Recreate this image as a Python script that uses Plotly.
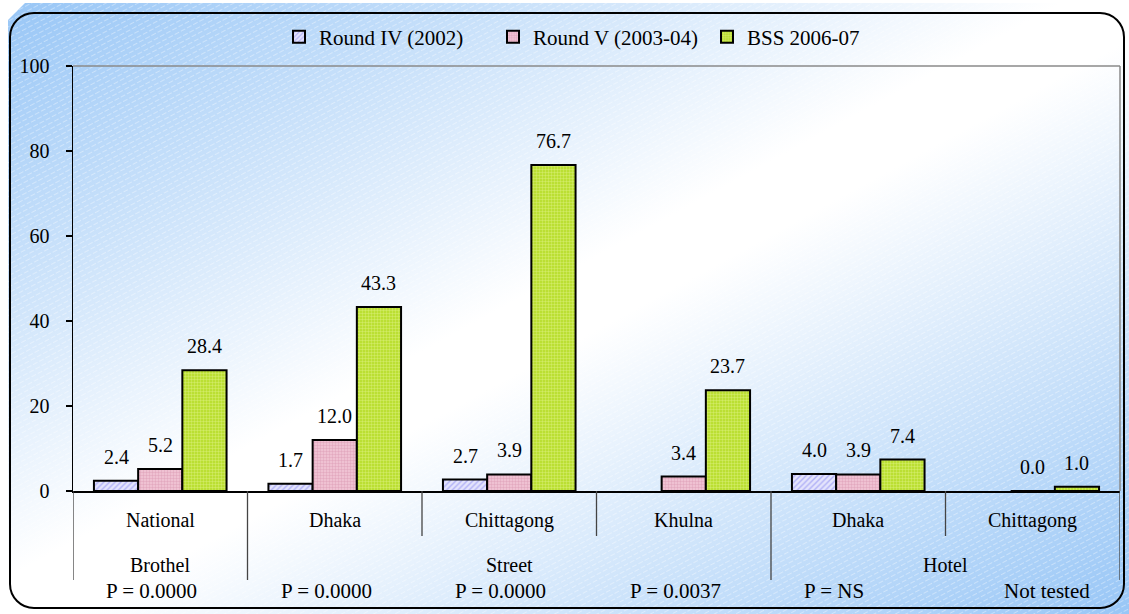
import base64
import plotly.graph_objects as go

categories = ["National", "Dhaka", "Chittagong", "Khulna", "Dhaka", "Chittagong"]
groups = ["Brothel", "Street", "Hotel"]
group_members = [[0], [1, 2, 3], [4, 5]]
p_values = ["P = 0.0000", "P = 0.0000", "P = 0.0000", "P = 0.0037", "P = NS", "Not tested"]

series_names = ["Round IV (2002)", "Round V (2003-04)", "BSS 2006-07"]
round_iv = [2.4, 1.7, 2.7, None, 4.0, None]
round_v = [5.2, 12.0, 3.9, 3.4, 3.9, 0.0]
bss = [28.4, 43.3, 76.7, 23.7, 7.4, 1.0]
series_values = [round_iv, round_v, bss]

W, H = 1129, 614
ML, MR, MT, MB = 73, 9, 66, 123
PW, PH = W - ML - MR, H - MT - MB
FONT = "'Liberation Serif', 'Times New Roman', serif"
BARGAP = 0.24

styles = [
    dict(shape="/", bg="#e4e4fc", fg="#7b7bf0", size=4, solidity=0.35),
    dict(shape=".", bg="#f2c8d8", fg="#d48aa6", size=3, solidity=0.5),
    dict(shape=".", bg="#b4dc22", fg="#eef8a8", size=3, solidity=0.5),
]

x_idx = list(range(len(categories)))
fig = go.Figure()
for name, vals, st in zip(series_names, series_values, styles):
    fig.add_trace(go.Bar(
        x=x_idx, y=vals, name=name, hoverinfo="skip",
        marker=dict(color=st["bg"], line=dict(color="black", width=2),
                    pattern=dict(shape=st["shape"], fgcolor=st["fg"], bgcolor=st["bg"],
                                 size=st["size"], solidity=st["solidity"], fillmode="overlay")),
    ))

# background svg
svg = f'''<svg xmlns="http://www.w3.org/2000/svg" width="{W}" height="{H}" viewBox="0 0 {W} {H}" preserveAspectRatio="none">
<defs>
<linearGradient id="g" x1="0" y1="0" x2="1" y2="1">
<stop offset="0" stop-color="#98c6f6"/>
<stop offset="0.47" stop-color="#ffffff"/>
<stop offset="0.53" stop-color="#ffffff"/>
<stop offset="1" stop-color="#98c6f6"/>
</linearGradient>
<pattern id="h" width="7" height="5" patternUnits="userSpaceOnUse" patternTransform="rotate(-28)">
<line x1="0" y1="2.5" x2="7" y2="2.5" stroke="#ffffff" stroke-width="0.8" stroke-opacity="0.45" stroke-dasharray="3,2"/>
</pattern>
</defs>
<rect x="8" y="3" width="{W-8}" height="{H-3}" fill="url(#g)"/>
<rect x="8" y="3" width="{W-8}" height="{H-3}" fill="url(#h)"/>
<polygon points="0,0 28,0 8,20 0,20" fill="#ffffff"/>
<rect x="10" y="13" width="1114" height="595" rx="24" ry="24" fill="none" stroke="#000000" stroke-width="2"/>
</svg>'''
src = "data:image/svg+xml;base64," + base64.b64encode(svg.encode()).decode()
fig.add_layout_image(dict(source=src, xref="paper", yref="paper",
                          x=-ML / PW, y=1 + MT / PH, sizex=W / PW, sizey=H / PH,
                          xanchor="left", yanchor="top", sizing="stretch", layer="below"))

def py(pixel_y):
    return (H - MB - pixel_y) / PH

def px(pixel_x):
    return (pixel_x - ML) / PW

shapes = []
shapes.append(dict(type="line", xref="paper", yref="paper", x0=0, x1=1, y0=1, y1=1,
                   line=dict(color="#8a8a8a", width=1.5)))
shapes.append(dict(type="line", xref="paper", yref="paper", x0=1, x1=1, y0=0, y1=1,
                   line=dict(color="#8a8a8a", width=1.5)))
group_bounds = set()
for mem in group_members:
    group_bounds.add(mem[0] - 0.5)
    group_bounds.add(mem[-1] + 0.5)
for i in range(len(categories) + 1):
    xb = i - 0.5
    long = xb in group_bounds
    shapes.append(dict(type="line", xref="x", yref="paper", x0=xb, x1=xb, y0=0,
                       y1=py(580 if long else 536), line=dict(color="#444444", width=1.3)))

annotations = []
w = (1 - BARGAP) / len(series_values)
for k, vals in enumerate(series_values):
    off = (k - (len(series_values) - 1) / 2) * w
    for i, v in enumerate(vals):
        if v is None:
            continue
        annotations.append(dict(x=i + off, y=v, xref="x", yref="y", text=f"{v:.1f}",
                                showarrow=False, yanchor="bottom", yshift=11,
                                font=dict(family=FONT, size=20, color="black")))
for i, c in enumerate(categories):
    annotations.append(dict(x=i, y=py(520), xref="x", yref="paper", text=c, showarrow=False,
                            yanchor="middle", font=dict(family=FONT, size=20, color="black")))
for g, mem in zip(groups, group_members):
    annotations.append(dict(x=(mem[0] + mem[-1]) / 2, y=py(565), xref="x", yref="paper", text=g,
                            showarrow=False, yanchor="middle",
                            font=dict(family=FONT, size=20, color="black")))
for i, p in enumerate(p_values):
    annotations.append(dict(x=i - 0.5, y=py(591), xref="x", yref="paper", text=p, showarrow=False,
                            xanchor="left", xshift=31 if p.startswith("P") else 56, yanchor="middle",
                            font=dict(family=FONT, size=21, color="black")))

fig.update_layout(
    width=W, height=H,
    margin=dict(l=ML, r=MR, t=MT, b=MB),
    paper_bgcolor="white", plot_bgcolor="rgba(0,0,0,0)",
    barmode="group", bargap=BARGAP, bargroupgap=0,
    font=dict(family=FONT, size=20, color="black"),
    showlegend=True, hovermode=False,
    legend=dict(orientation="h", x=px(279), xanchor="left", y=py(37), yanchor="middle",
                font=dict(family=FONT, size=21, color="black"), bgcolor="rgba(0,0,0,0)",
                traceorder="normal", itemwidth=30, entrywidth=169, entrywidthmode="pixels"),
    shapes=shapes, annotations=annotations,
    xaxis=dict(range=[-0.5, len(categories) - 0.5], showticklabels=False, ticks="",
               showgrid=False, zeroline=False, showline=True, linecolor="black", linewidth=1.5),
    yaxis=dict(range=[0, 100], dtick=20, tick0=0, showgrid=False, zeroline=False,
               showline=True, linecolor="black", linewidth=1.5, ticks="outside", ticklen=6,
               tickcolor="black", tickwidth=1.5, ticklabelstandoff=12,
               tickfont=dict(family=FONT, size=20, color="black")),
)

fig.write_html("out.html", config={"displayModeBar": False, "staticPlot": True},
               post_script="document.body.style.margin='0';document.body.style.overflow='hidden';")
